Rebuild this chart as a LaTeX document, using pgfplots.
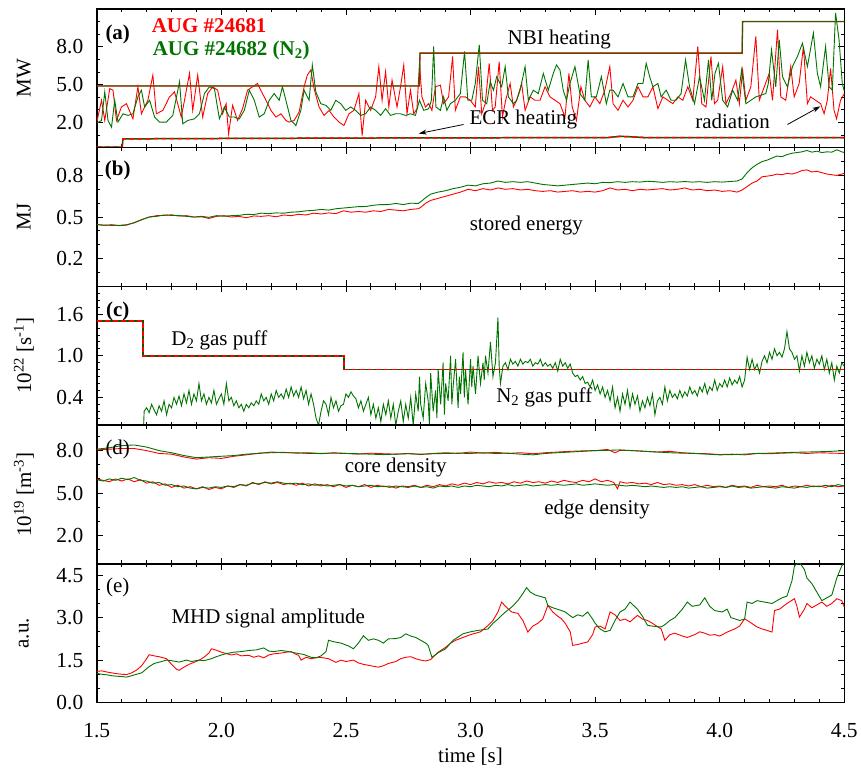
\documentclass[border=0pt]{standalone}
\usepackage{pgfplots}
\pgfplotsset{compat=1.18}
\usepackage{fontspec}
\setmainfont{Liberation Serif}
\usetikzlibrary{arrows.meta}
\definecolor{dgreen}{RGB}{0,115,0}
\definecolor{dred}{RGB}{255,0,0}
\pgfplotsset{panel/.style={
  width=749pt, height=139pt, scale only axis,
  xmin=1.5, xmax=4.5,
  xtick={1.5,2.0,2.5,3.0,3.5,4.0,4.5}, minor x tick num=4,
  xticklabel=\empty,
  tick align=inside, tick pos=both,
  major tick length=6pt, minor tick length=3.5pt,
  every tick/.style={black, line width=0.9pt},
  axis line style={line width=1.5pt},
  /pgf/number format/assume math mode=true,
  tick label style={font=\fontsize{21.5}{26}\selectfont},
  label style={font=\fontsize{21}{25}\selectfont},
  yticklabel style={xshift=-10pt, /pgf/number format/fixed, /pgf/number format/fixed zerofill, /pgf/number format/precision=1},
  ylabel style={at={(axis description cs:0,0.5)}, anchor=center, yshift=73pt, inner sep=0pt},
  every axis plot/.append style={line width=0.9pt},
}}
\begin{document}
\begin{tikzpicture}[font=\fontsize{21}{25}\selectfont]
\path (-97pt,-68pt) rectangle (764pt,704pt);
% ---------------- (a)
\begin{axis}[panel, at={(0pt,556pt)}, ymin=0, ymax=11, ytick={2,5,8}, minor ytick={1,3,4,6,7,9,10}, ylabel={MW}]
\addplot[dred, no marks] coordinates {(1.5,2.03) (1.519,3.76) (1.532,2.16) (1.552,4.69) (1.565,4.56) (1.579,2.16) (1.599,3.23) (1.619,3.49) (1.645,2.29) (1.665,4.83) (1.679,2.69) (1.705,3.76) (1.725,5.76) (1.739,2.69) (1.765,2.96) (1.792,4.03) (1.812,4.43) (1.839,2.43) (1.852,3.76) (1.872,5.89) (1.885,2.96) (1.905,5.76) (1.925,2.43) (1.945,4.29) (1.965,4.83) (1.985,4.56) (2.005,2.69) (2.019,3.49) (2.029,1.09) (2.045,3.36) (2.065,2.16) (2.085,3.09) (2.105,4.56) (2.125,4.83) (2.145,5.09) (2.165,4.29) (2.179,3.76) (2.199,2.96) (2.219,2.43) (2.239,2.69) (2.259,2.16) (2.272,2.03) (2.292,2.16) (2.312,2.83) (2.332,4.83) (2.345,5.76) (2.359,6.16) (2.372,4.69) (2.392,3.23) (2.412,2.56) (2.432,2.96) (2.452,2.43) (2.472,2.03) (2.492,1.76) (2.512,2.69) (2.532,2.96) (2.552,4.29) (2.565,0.96) (2.579,3.76) (2.599,2.96) (2.619,4.03) (2.632,6.43) (2.645,3.76) (2.659,6.03) (2.672,3.23) (2.685,5.36) (2.705,3.23) (2.719,4.83) (2.732,6.56) (2.745,2.69) (2.759,4.56) (2.772,2.69) (2.785,3.09) (2.795,6.69) (2.805,4.03) (2.819,3.23) (2.832,3.49)
(2.845,2.96) (2.859,4.83) (2.879,4.96) (2.892,3.49) (2.912,4.03) (2.928,7.23) (2.939,2.96) (2.959,4.03) (2.979,4.03) (2.999,3.76) (3.019,3.23) (3.032,6.43) (3.045,2.69) (3.059,3.49) (3.075,6.69) (3.088,2.96) (3.099,3.23) (3.115,6.83) (3.128,2.43) (3.141,3.76) (3.159,5.09) (3.172,3.23) (3.185,3.76) (3.205,5.09) (3.219,2.96) (3.239,4.03) (3.259,3.76) (3.279,3.76) (3.299,4.83) (3.319,4.03) (3.339,3.76) (3.359,3.49) (3.379,2.43) (3.395,5.89) (3.408,3.23) (3.425,2.16) (3.443,4.83) (3.459,3.76) (3.479,3.23) (3.499,4.03) (3.519,3.49) (3.539,4.56) (3.559,6.43) (3.572,3.49) (3.592,2.96) (3.612,3.76) (3.632,3.23) (3.652,3.76) (3.672,4.83) (3.692,4.03) (3.712,4.03) (3.732,4.83) (3.752,3.09) (3.772,4.03) (3.792,3.76) (3.812,3.49) (3.832,4.03) (3.852,3.76) (3.872,4.83) (3.892,3.76) (3.912,8.03) (3.928,3.49) (3.945,3.23) (3.965,7.23) (3.979,3.49) (3.992,3.76) (4.012,6.43) (4.025,3.49) (4.045,4.29) (4.065,5.36) (4.079,3.49) (4.092,6.16) (4.105,3.76) (4.125,4.83) (4.145,8.83) (4.159,3.76) (4.179,4.83) (4.199,5.89) (4.212,3.76) (4.232,9.36) (4.245,4.03) (4.265,3.76) (4.285,6.43) (4.299,4.03) (4.319,5.09) (4.336,8.03) (4.352,3.49) (4.365,4.03) (4.385,3.76) (4.405,3.49) (4.419,2.69) (4.432,3.76) (4.445,6.29) (4.459,2.96) (4.469,2.29) (4.485,3.76) (4.5,4.29)};
\addplot[dgreen, no marks] coordinates {(1.5,1.95) (1.519,2.16) (1.532,4.43) (1.545,2.16) (1.559,1.63) (1.572,3.76) (1.585,2.03) (1.605,2.69) (1.625,2.56) (1.645,2.69) (1.665,4.03) (1.679,4.56) (1.692,3.23) (1.712,3.76) (1.732,2.43) (1.752,2.03) (1.779,2.03) (1.805,2.56) (1.832,5.23) (1.845,1.89) (1.865,2.16) (1.892,2.29) (1.912,2.69) (1.932,4.29) (1.952,4.83) (1.972,4.69) (1.992,2.29) (2.012,3.23) (2.032,2.43) (2.052,2.43) (2.072,2.29) (2.092,2.96) (2.112,4.56) (2.132,3.76) (2.152,2.43) (2.172,2.69) (2.192,3.76) (2.212,4.29) (2.232,3.76) (2.245,4.83) (2.259,3.76) (2.279,2.16) (2.299,1.76) (2.319,2.96) (2.332,4.56) (2.352,3.76) (2.365,6.56) (2.379,4.43) (2.399,3.49) (2.419,3.36) (2.439,2.96) (2.459,3.76) (2.479,3.49) (2.499,2.96) (2.519,3.23) (2.539,2.96) (2.559,2.56) (2.579,2.69) (2.599,3.23) (2.619,2.96) (2.639,2.56) (2.659,3.09) (2.679,2.56) (2.699,2.69) (2.719,2.69) (2.739,2.56) (2.759,2.69) (2.779,2.56) (2.795,3.76) (2.812,2.96) (2.832,3.09)
(2.843,3.76) (2.852,8.03) (2.861,3.23) (2.879,2.96) (2.892,4.03) (2.905,2.96) (2.919,3.49) (2.939,3.76) (2.959,4.29) (2.976,7.63) (2.989,3.76) (3.005,3.76) (3.019,5.09) (3.035,8.16) (3.048,3.76) (3.065,3.49) (3.079,5.23) (3.092,4.56) (3.105,5.63) (3.125,4.83) (3.139,6.43) (3.152,4.03) (3.172,3.49) (3.185,3.76) (3.199,4.56) (3.219,6.43) (3.232,3.76) (3.252,4.56) (3.272,4.29) (3.292,5.89) (3.312,4.56) (3.332,5.89) (3.345,6.56) (3.359,6.16) (3.372,4.56) (3.385,3.76) (3.399,5.09) (3.419,6.43) (3.439,4.29) (3.459,3.76) (3.472,6.96) (3.485,4.03) (3.505,4.03) (3.525,5.63) (3.545,3.49) (3.559,4.56) (3.572,4.56) (3.592,4.03) (3.612,5.09) (3.632,4.03) (3.652,4.03) (3.672,5.09) (3.692,5.09) (3.705,6.69) (3.719,5.63) (3.732,4.83) (3.752,5.09) (3.765,4.03) (3.785,4.56) (3.805,3.76) (3.825,3.76) (3.845,4.29) (3.863,6.96) (3.879,4.83) (3.899,3.49) (3.919,5.63) (3.939,3.76) (3.955,6.96) (3.968,3.76) (3.981,5.89) (3.995,6.69) (4.012,3.76) (4.032,3.23) (4.052,4.56) (4.072,3.76) (4.088,6.16) (4.105,3.49) (4.125,3.76) (4.145,4.03) (4.165,4.16) (4.185,4.29) (4.195,5.09) (4.208,7.76) (4.225,4.83) (4.239,8.56) (4.252,5.63) (4.272,4.83) (4.292,6.43) (4.312,7.23) (4.332,8.29) (4.352,6.43) (4.376,9.09) (4.392,5.89) (4.405,4.83) (4.425,8.03) (4.439,4.83) (4.452,4.56) (4.465,10.69) (4.479,8.56) (4.492,5.09) (4.5,4.5)};
% NBI heating
\addplot[dred, no marks, line width=1.3pt] coordinates {(1.5,4.9) (2.795,4.9) (2.797,7.5) (4.09,7.5) (4.092,10.0) (4.5,10.0)};
\addplot[dgreen, no marks, line width=1.1pt, opacity=0.85] coordinates {(1.5,4.9) (2.795,4.9) (2.797,7.5) (4.09,7.5) (4.092,10.0) (4.5,10.0)};
% ECR heating
\addplot[dgreen!80!black, no marks, line width=1.5pt] coordinates {(1.5,0.05) (1.602,0.05) (1.605,0.7) (2.0,0.73) (2.8,0.78) (3.55,0.8) (3.6,0.9) (3.65,0.86) (3.7,0.8) (4.5,0.8)};
\addplot[dred, no marks, line width=1.5pt, dash pattern=on 5pt off 3pt] coordinates {(1.5,0.05) (1.602,0.05) (1.605,0.7) (2.0,0.73) (2.8,0.78) (3.55,0.8) (3.6,0.9) (3.65,0.86) (3.7,0.8) (4.5,0.8)};
\node[font=\fontsize{21}{25}\selectfont\bfseries] at (axis cs:1.584,9.0) {(a)};
\node[anchor=west, inner sep=0pt, text=dred, font=\fontsize{21}{25}\selectfont\bfseries] at (axis cs:1.72,9.68) {AUG \#24681};
\node[anchor=west, inner sep=0pt, text=dgreen, font=\fontsize{21}{25}\selectfont\bfseries] at (axis cs:1.724,7.68) {AUG \#24682 (N\textsubscript{2})};
\node at (axis cs:3.356,8.56) {NBI heating};
\node at (axis cs:3.212,2.24) {ECR heating};
\node at (axis cs:4.052,2.08) {radiation};
\draw[-{Stealth[length=8pt,width=5pt]}, line width=0.8pt] (axis cs:2.972,1.84) -- (axis cs:2.792,1.12);
\draw[-{Stealth[length=8pt,width=5pt]}, line width=0.8pt] (axis cs:4.272,1.84) -- (axis cs:4.404,3.28);
\end{axis}
% ---------------- (b)
\begin{axis}[panel, at={(0pt,417pt)}, ymin=0, ymax=1.0, ytick={0.2,0.5,0.8}, minor ytick={0.1,0.3,0.4,0.6,0.7,0.9}, ylabel={MJ}]
\addplot[dred, no marks] coordinates {(1.50,0.446) (1.53,0.442) (1.56,0.44) (1.59,0.44) (1.62,0.445) (1.65,0.458) (1.68,0.482) (1.71,0.50) (1.74,0.51) (1.77,0.512) (1.80,0.516) (1.83,0.508) (1.86,0.51) (1.89,0.5) (1.92,0.502) (1.95,0.49) (1.98,0.505) (2.01,0.51) (2.04,0.5) (2.07,0.505) (2.10,0.495) (2.13,0.508) (2.16,0.505) (2.19,0.51) (2.22,0.502) (2.25,0.515) (2.28,0.51) (2.31,0.52) (2.34,0.515) (2.37,0.528) (2.40,0.522) (2.43,0.53) (2.46,0.525) (2.49,0.545) (2.52,0.535) (2.55,0.54) (2.58,0.535) (2.61,0.545) (2.64,0.54) (2.67,0.555) (2.70,0.55) (2.73,0.545) (2.76,0.555) (2.79,0.56) (2.80,0.57) (2.82,0.6) (2.84,0.62) (2.87,0.635) (2.90,0.65) (2.93,0.665) (2.96,0.68) (2.99,0.70) (3.02,0.69) (3.05,0.705) (3.08,0.695) (3.11,0.71) (3.14,0.7) (3.17,0.705) (3.20,0.695) (3.23,0.70) (3.26,0.69) (3.29,0.685) (3.32,0.69) (3.35,0.68) (3.38,0.685) (3.41,0.69) (3.44,0.68) (3.47,0.685) (3.50,0.68) (3.53,0.69) (3.56,0.71) (3.59,0.695) (3.62,0.70) (3.65,0.69) (3.68,0.70) (3.71,0.695) (3.74,0.70) (3.77,0.705) (3.80,0.695) (3.83,0.70) (3.86,0.71) (3.89,0.695) (3.92,0.70) (3.95,0.69) (3.98,0.695) (4.01,0.685) (4.04,0.69) (4.07,0.68) (4.09,0.695) (4.11,0.72) (4.13,0.745) (4.15,0.76) (4.17,0.79) (4.19,0.795) (4.21,0.80) (4.23,0.81) (4.25,0.805) (4.27,0.815) (4.29,0.81) (4.31,0.82) (4.33,0.835) (4.35,0.84) (4.37,0.825) (4.39,0.83) (4.41,0.82) (4.43,0.81) (4.45,0.805) (4.47,0.80) (4.49,0.81) (4.50,0.815)};
\addplot[dgreen, no marks] coordinates {(1.50,0.446) (1.53,0.44) (1.56,0.445) (1.59,0.438) (1.62,0.442) (1.65,0.46) (1.68,0.48) (1.71,0.50) (1.74,0.505) (1.77,0.515) (1.80,0.512) (1.83,0.51) (1.86,0.505) (1.89,0.5) (1.92,0.505) (1.95,0.498) (1.98,0.51) (2.01,0.506) (2.04,0.51) (2.07,0.512) (2.10,0.52) (2.13,0.518) (2.16,0.528) (2.19,0.525) (2.22,0.53) (2.25,0.528) (2.28,0.535) (2.31,0.538) (2.34,0.545) (2.37,0.548) (2.40,0.555) (2.43,0.55) (2.46,0.56) (2.49,0.565) (2.52,0.57) (2.55,0.575) (2.58,0.576) (2.61,0.585) (2.64,0.59) (2.67,0.59) (2.70,0.598) (2.73,0.59) (2.76,0.60) (2.79,0.598) (2.80,0.61) (2.82,0.64) (2.84,0.665) (2.87,0.68) (2.90,0.69) (2.93,0.705) (2.96,0.715) (2.99,0.73) (3.02,0.725) (3.05,0.74) (3.08,0.745) (3.11,0.76) (3.14,0.75) (3.17,0.755) (3.20,0.75) (3.23,0.755) (3.26,0.745) (3.29,0.735) (3.32,0.73) (3.35,0.725) (3.38,0.73) (3.41,0.735) (3.44,0.74) (3.47,0.745) (3.50,0.74) (3.53,0.75) (3.56,0.748) (3.59,0.755) (3.62,0.75) (3.65,0.755) (3.68,0.752) (3.71,0.758) (3.74,0.755) (3.77,0.75) (3.80,0.755) (3.83,0.752) (3.86,0.756) (3.89,0.752) (3.92,0.755) (3.95,0.75) (3.98,0.755) (4.01,0.752) (4.04,0.756) (4.07,0.76) (4.09,0.775) (4.11,0.82) (4.13,0.855) (4.15,0.88) (4.17,0.9) (4.19,0.91) (4.21,0.925) (4.23,0.94) (4.25,0.935) (4.27,0.95) (4.29,0.96) (4.31,0.965) (4.33,0.97) (4.35,0.98) (4.37,0.968) (4.39,0.975) (4.41,0.965) (4.43,0.97) (4.45,0.968) (4.47,0.985) (4.49,0.97) (4.50,0.965)};
\node[font=\fontsize{21}{25}\selectfont\bfseries] at (axis cs:1.584,0.835) {(b)};
\node at (axis cs:3.224,0.439) {stored energy};
\end{axis}
% ---------------- (c)
\begin{axis}[panel, at={(0pt,278pt)}, ymin=0, ymax=2.0, ytick={0.4,1.0,1.6}, minor ytick={0.1,0.2,0.3,0.5,0.6,0.7,0.8,0.9,1.1,1.2,1.3,1.4,1.5,1.7,1.8,1.9}, ylabel={10\textsuperscript{22} [s\textsuperscript{-1}]}]
\addplot[dgreen, no marks] coordinates {(1.688,0.0) (1.69,0.2) (1.70,0.25) (1.71,0.18) (1.72,0.3) (1.73,0.22) (1.74,0.15) (1.75,0.28) (1.76,0.2) (1.77,0.35) (1.78,0.15) (1.79,0.3) (1.80,0.25) (1.81,0.4) (1.82,0.3) (1.83,0.42) (1.84,0.28) (1.85,0.45) (1.86,0.32) (1.87,0.5) (1.88,0.3) (1.89,0.45) (1.90,0.35) (1.91,0.6) (1.92,0.35) (1.93,0.45) (1.94,0.3) (1.95,0.4) (1.96,0.32) (1.97,0.5) (1.98,0.3) (1.99,0.38) (2.00,0.45) (2.01,0.3) (2.02,0.6) (2.03,0.35) (2.04,0.4) (2.05,0.28) (2.06,0.35) (2.07,0.25) (2.08,0.3) (2.09,0.2) (2.10,0.3) (2.11,0.25) (2.12,0.32) (2.13,0.28) (2.14,0.35) (2.15,0.3) (2.16,0.45) (2.17,0.35) (2.18,0.4) (2.19,0.3) (2.20,0.45) (2.21,0.35) (2.22,0.5) (2.23,0.4) (2.24,0.45) (2.25,0.38) (2.26,0.52) (2.27,0.4) (2.28,0.55) (2.29,0.42) (2.30,0.5) (2.31,0.4) (2.32,0.55) (2.33,0.38) (2.34,0.5) (2.35,0.3) (2.36,0.45) (2.37,0.3) (2.38,0.1) (2.39,0.0) (2.40,0.2) (2.41,0.35) (2.42,0.3) (2.43,0.15) (2.44,0.4) (2.45,0.25) (2.46,0.35) (2.47,0.2) (2.48,0.28) (2.49,0.3) (2.50,0.45) (2.51,0.4) (2.52,0.48) (2.53,0.42) (2.54,0.38) (2.55,0.25) (2.56,0.35) (2.57,0.2) (2.58,0.3) (2.59,0.4) (2.60,0.15) (2.61,0.3) (2.62,0.1) (2.63,0.25) (2.64,0.05) (2.65,0.3) (2.66,0.15) (2.67,0.35) (2.68,0.1) (2.69,0.3) (2.70,0.0) (2.71,0.2) (2.72,0.35) (2.73,0.05) (2.74,0.3) (2.75,0.1) (2.76,0.4) (2.77,0.0) (2.78,0.45) (2.79,0.2) (2.795,0.7) (2.80,0.3) (2.81,0.1) (2.82,0.6) (2.83,0.35) (2.835,0.0) (2.84,0.75) (2.85,0.2) (2.86,0.5) (2.865,0.1) (2.87,0.8) (2.88,0.3) (2.89,0.9) (2.895,0.15) (2.90,0.6) (2.91,0.35) (2.92,1.0) (2.925,0.3) (2.93,0.55) (2.94,0.95) (2.95,0.25) (2.955,0.7) (2.96,0.45) (2.97,1.05) (2.975,0.4) (2.98,0.8) (2.99,0.3) (3.00,0.95) (3.005,0.55) (3.01,0.85) (3.02,0.45) (3.03,1.0) (3.04,0.6) (3.05,0.9) (3.055,0.65) (3.06,1.0) (3.07,0.75) (3.08,1.2) (3.09,0.7) (3.10,0.9) (3.11,1.55) (3.115,0.85) (3.12,0.6) (3.13,0.85) (3.14,0.9) (3.15,0.8) (3.16,0.95) (3.17,0.88) (3.18,0.92) (3.19,0.85) (3.20,0.95) (3.21,0.88) (3.22,0.92) (3.23,0.9) (3.24,0.95) (3.25,0.85) (3.26,0.9) (3.27,0.88) (3.28,0.95) (3.29,0.85) (3.30,0.9) (3.31,0.85) (3.32,0.88) (3.33,0.82) (3.34,0.9) (3.35,0.78) (3.36,0.95) (3.37,0.85) (3.38,0.9) (3.39,0.82) (3.40,0.88) (3.41,0.75) (3.42,0.7) (3.43,0.72) (3.44,0.65) (3.45,0.7) (3.46,0.6) (3.47,0.62) (3.48,0.55) (3.49,0.65) (3.50,0.5) (3.51,0.58) (3.52,0.45) (3.53,0.55) (3.54,0.4) (3.55,0.5) (3.56,0.35) (3.57,0.55) (3.58,0.25) (3.59,0.4) (3.60,0.2) (3.61,0.45) (3.62,0.3) (3.63,0.5) (3.64,0.25) (3.65,0.45) (3.66,0.3) (3.67,0.42) (3.68,0.2) (3.69,0.35) (3.70,0.25) (3.71,0.4) (3.72,0.28) (3.73,0.45) (3.74,0.15) (3.75,0.35) (3.76,0.4) (3.77,0.3) (3.78,0.55) (3.79,0.35) (3.80,0.5) (3.81,0.4) (3.82,0.45) (3.83,0.38) (3.84,0.5) (3.85,0.4) (3.86,0.48) (3.87,0.42) (3.88,0.55) (3.89,0.45) (3.90,0.5) (3.91,0.42) (3.92,0.55) (3.93,0.48) (3.94,0.6) (3.95,0.45) (3.96,0.55) (3.97,0.5) (3.98,0.65) (3.99,0.5) (4.00,0.6) (4.01,0.55) (4.02,0.65) (4.03,0.55) (4.04,0.68) (4.05,0.58) (4.06,0.65) (4.07,0.6) (4.08,0.7) (4.09,0.55) (4.10,0.65) (4.11,0.98) (4.12,0.8) (4.13,0.95) (4.14,0.8) (4.15,0.88) (4.16,0.75) (4.17,0.92) (4.18,1.0) (4.19,0.9) (4.20,1.05) (4.21,0.95) (4.22,1.1) (4.23,1.0) (4.24,1.05) (4.25,0.98) (4.26,1.1) (4.27,1.35) (4.28,1.1) (4.29,1.05) (4.30,0.95) (4.31,1.0) (4.32,0.78) (4.33,1.0) (4.34,0.85) (4.35,1.05) (4.36,0.9) (4.37,1.0) (4.38,0.82) (4.39,0.95) (4.40,0.88) (4.41,1.0) (4.42,0.8) (4.43,0.95) (4.44,0.75) (4.45,0.9) (4.46,0.65) (4.47,0.85) (4.48,0.75) (4.49,0.9) (4.50,0.85)};
\addplot[dgreen!80!black, no marks, line width=1.5pt] coordinates {(1.5,1.5) (1.686,1.5) (1.686,1.0) (2.492,1.0) (2.492,0.8) (4.5,0.8)};
\addplot[dred, no marks, line width=1.5pt, dash pattern=on 5pt off 3pt] coordinates {(1.5,1.5) (1.686,1.5) (1.686,1.0) (2.492,1.0) (2.492,0.8) (4.5,0.8)};
\node[font=\fontsize{21}{25}\selectfont\bfseries] at (axis cs:1.584,1.64) {(c)};
\node at (axis cs:1.992,1.22) {D\textsubscript{2} gas puff};
\node at (axis cs:3.296,0.40) {N\textsubscript{2} gas puff};
\end{axis}
% ---------------- (d)
\begin{axis}[panel, at={(0pt,139pt)}, ymin=0, ymax=9.8, ytick={2,5,8}, minor ytick={1,3,4,6,7,9}, ylabel={10\textsuperscript{19} [m\textsuperscript{-3}]}]
\addplot[dred, no marks] coordinates {(1.50,8.05) (1.55,8.1) (1.60,8.15) (1.65,8.15) (1.70,8.0) (1.75,7.8) (1.80,7.75) (1.85,7.55) (1.90,7.4) (1.95,7.5) (2.00,7.45) (2.05,7.6) (2.10,7.7) (2.15,7.82) (2.20,7.85) (2.25,7.88) (2.30,7.82) (2.35,7.85) (2.40,7.78) (2.45,7.85) (2.50,7.8) (2.55,7.75) (2.60,7.82) (2.65,7.78) (2.70,7.75) (2.75,7.8) (2.80,7.72) (2.85,7.8) (2.90,7.85) (2.95,7.8) (3.00,7.9) (3.05,7.82) (3.10,7.88) (3.15,7.8) (3.20,7.85) (3.25,7.78) (3.30,7.85) (3.35,7.9) (3.40,7.95) (3.45,7.98) (3.50,8.0) (3.55,8.08) (3.58,7.85) (3.60,8.02) (3.65,8.0) (3.70,7.95) (3.75,7.9) (3.80,7.95) (3.85,7.85) (3.90,7.8) (3.95,7.78) (4.00,7.72) (4.05,7.75) (4.10,7.7) (4.15,7.8) (4.20,7.78) (4.25,7.82) (4.30,7.85) (4.35,7.8) (4.40,7.85) (4.45,7.82) (4.50,7.8)};
\addplot[dgreen, no marks] coordinates {(1.50,8.1) (1.55,8.2) (1.60,8.35) (1.65,8.4) (1.70,8.25) (1.75,8.0) (1.80,7.85) (1.85,7.65) (1.90,7.5) (1.95,7.55) (2.00,7.6) (2.05,7.65) (2.10,7.75) (2.15,7.8) (2.20,7.9) (2.25,7.85) (2.30,7.85) (2.35,7.8) (2.40,7.8) (2.45,7.82) (2.50,7.8) (2.55,7.78) (2.60,7.75) (2.65,7.72) (2.70,7.75) (2.75,7.78) (2.80,7.75) (2.85,7.78) (2.90,7.8) (2.95,7.82) (3.00,7.8) (3.05,7.85) (3.10,7.8) (3.15,7.82) (3.20,7.75) (3.25,7.7) (3.30,7.8) (3.35,7.85) (3.40,7.9) (3.45,7.95) (3.50,8.0) (3.55,8.02) (3.60,8.05) (3.65,8.0) (3.70,7.95) (3.75,7.9) (3.80,7.85) (3.85,7.82) (3.90,7.8) (3.95,7.75) (4.00,7.7) (4.05,7.72) (4.10,7.75) (4.15,7.8) (4.20,7.82) (4.25,7.85) (4.30,7.88) (4.35,7.9) (4.40,7.92) (4.45,7.95) (4.50,8.0)};
\addplot[dred, no marks] coordinates {(1.500,6.0) (1.525,5.9) (1.550,5.8) (1.575,6.0) (1.600,5.85) (1.625,6.0) (1.650,5.8) (1.675,5.95) (1.700,5.7) (1.725,5.8) (1.750,5.55) (1.775,5.65) (1.800,5.4) (1.825,5.55) (1.850,5.35) (1.875,5.45) (1.900,5.3) (1.925,5.45) (1.950,5.25) (1.975,5.4) (2.000,5.3) (2.025,5.5) (2.050,5.4) (2.075,5.6) (2.100,5.5) (2.125,5.75) (2.150,5.6) (2.175,5.8) (2.200,5.65) (2.225,5.75) (2.250,5.6) (2.275,5.7) (2.300,5.55) (2.325,5.7) (2.350,5.5) (2.375,5.65) (2.400,5.5) (2.425,5.6) (2.450,5.45) (2.475,5.6) (2.500,5.4) (2.525,5.55) (2.550,5.45) (2.575,5.6) (2.600,5.4) (2.625,5.55) (2.650,5.45) (2.675,5.5) (2.700,5.35) (2.725,5.5) (2.750,5.45) (2.775,5.55) (2.800,5.4) (2.825,5.55) (2.850,5.45) (2.875,5.6) (2.900,5.5) (2.925,5.65) (2.950,5.55) (2.975,5.7) (3.000,5.6) (3.025,5.75) (3.050,5.65) (3.075,5.8) (3.100,5.7) (3.125,5.75) (3.150,5.65) (3.175,5.8) (3.200,5.7) (3.225,5.85) (3.250,5.75) (3.275,5.8) (3.300,5.7) (3.325,5.85) (3.350,5.75) (3.375,5.9) (3.400,5.8) (3.425,5.75) (3.450,5.9) (3.475,5.8) (3.500,6.0) (3.525,5.8) (3.550,5.9) (3.575,5.75) (3.590,5.3) (3.600,5.8) (3.625,5.7) (3.650,5.75) (3.675,5.65) (3.700,5.7) (3.725,5.6) (3.750,5.75) (3.775,5.6) (3.800,5.65) (3.825,5.55) (3.850,5.6) (3.875,5.5) (3.900,5.6) (3.925,5.45) (3.950,5.55) (3.975,5.45) (4.000,5.5) (4.025,5.4) (4.050,5.55) (4.075,5.45) (4.100,5.5) (4.125,5.4) (4.150,5.55) (4.175,5.45) (4.200,5.5) (4.225,5.45) (4.250,5.55) (4.275,5.4) (4.300,5.5) (4.325,5.45) (4.350,5.55) (4.375,5.45) (4.400,5.5) (4.425,5.4) (4.450,5.55) (4.475,5.45) (4.500,5.5)};
\addplot[dgreen, no marks] coordinates {(1.500,5.95) (1.525,5.85) (1.550,6.0) (1.575,5.9) (1.600,6.05) (1.625,5.95) (1.650,6.1) (1.675,5.9) (1.700,5.85) (1.725,5.7) (1.750,5.75) (1.775,5.55) (1.800,5.6) (1.825,5.45) (1.850,5.5) (1.875,5.35) (1.900,5.3) (1.925,5.4) (1.950,5.35) (1.975,5.45) (2.000,5.4) (2.025,5.5) (2.050,5.45) (2.075,5.6) (2.100,5.55) (2.125,5.7) (2.150,5.65) (2.175,5.75) (2.200,5.7) (2.225,5.8) (2.250,5.7) (2.275,5.65) (2.300,5.7) (2.325,5.6) (2.350,5.65) (2.375,5.55) (2.400,5.6) (2.425,5.5) (2.450,5.55) (2.475,5.6) (2.500,5.5) (2.525,5.55) (2.550,5.45) (2.575,5.5) (2.600,5.55) (2.625,5.45) (2.650,5.5) (2.675,5.4) (2.700,5.5) (2.725,5.45) (2.750,5.4) (2.775,5.5) (2.800,5.4) (2.825,5.45) (2.850,5.35) (2.875,5.5) (2.900,5.45) (2.925,5.5) (2.950,5.4) (2.975,5.5) (3.000,5.45) (3.025,5.55) (3.050,5.5) (3.075,5.45) (3.100,5.55) (3.125,5.5) (3.150,5.6) (3.175,5.5) (3.200,5.55) (3.225,5.6) (3.250,5.5) (3.275,5.55) (3.300,5.6) (3.325,5.55) (3.350,5.6) (3.375,5.55) (3.400,5.6) (3.425,5.65) (3.450,5.55) (3.475,5.6) (3.500,5.65) (3.525,5.6) (3.550,5.55) (3.575,5.6) (3.600,5.55) (3.625,5.5) (3.650,5.55) (3.675,5.5) (3.700,5.45) (3.725,5.5) (3.750,5.45) (3.775,5.4) (3.800,5.45) (3.825,5.4) (3.850,5.45) (3.875,5.35) (3.900,5.4) (3.925,5.45) (3.950,5.35) (3.975,5.4) (4.000,5.45) (4.025,5.4) (4.050,5.5) (4.075,5.4) (4.100,5.45) (4.125,5.35) (4.150,5.4) (4.175,5.45) (4.200,5.4) (4.225,5.35) (4.250,5.45) (4.275,5.4) (4.300,5.35) (4.325,5.45) (4.350,5.4) (4.375,5.5) (4.400,5.45) (4.425,5.55) (4.450,5.45) (4.475,5.6) (4.500,5.5)};
\node at (axis cs:1.584,8.11) {(d)};
\node at (axis cs:2.70,6.84) {core density};
\node at (axis cs:3.508,3.81) {edge density};
\end{axis}
% ---------------- (e)
\begin{axis}[panel, at={(0pt,0pt)}, ymin=0, ymax=4.9, ytick={0,1.5,3.0,4.5}, minor ytick={0.5,1.0,2.0,2.5,3.5,4.0}, ylabel={a.u.},
  xticklabel={\axisdefaultticklabel},
  xticklabel style={yshift=-17pt, /pgf/number format/fixed, /pgf/number format/fixed zerofill, /pgf/number format/precision=1},
  xlabel={time [s]}, xlabel style={at={(axis description cs:0.5,0)}, anchor=center, yshift=-54pt, inner sep=0pt}]
\addplot[dred, no marks] coordinates {(1.50,1.10) (1.52,1.12) (1.54,1.08) (1.56,1.05) (1.58,1.02) (1.60,1.0) (1.62,0.99) (1.64,1.05) (1.66,1.15) (1.68,1.3) (1.70,1.55) (1.71,1.69) (1.73,1.65) (1.75,1.62) (1.78,1.55) (1.80,1.35) (1.82,1.18) (1.83,1.14) (1.85,1.25) (1.87,1.35) (1.89,1.42) (1.91,1.49) (1.93,1.6) (1.95,1.75) (1.96,1.9) (1.98,1.85) (2.00,1.78) (2.02,1.73) (2.04,1.68) (2.06,1.72) (2.08,1.65) (2.11,1.67) (2.13,1.6) (2.15,1.65) (2.17,1.58) (2.19,1.68) (2.21,1.72) (2.24,1.75) (2.26,1.78) (2.28,1.8) (2.30,1.7) (2.31,1.67) (2.32,1.5) (2.34,1.6) (2.36,1.55) (2.39,1.6) (2.41,1.58) (2.43,1.55) (2.46,1.42) (2.48,1.5) (2.50,1.45) (2.53,1.5) (2.55,1.4) (2.57,1.35) (2.60,1.3) (2.63,1.25) (2.65,1.3) (2.67,1.38) (2.70,1.45) (2.72,1.55) (2.74,1.6) (2.76,1.62) (2.78,1.55) (2.80,1.5) (2.82,1.47) (2.84,1.52) (2.87,1.78) (2.90,1.95) (2.92,2.1) (2.94,2.2) (2.97,2.3) (3.00,2.4) (3.02,2.45) (3.04,2.5) (3.07,2.72) (3.09,2.9) (3.11,3.2) (3.125,3.55) (3.14,3.4) (3.165,3.2) (3.19,3.15) (3.21,2.9) (3.23,2.49) (3.25,2.7) (3.27,2.8) (3.29,2.95) (3.31,3.43) (3.33,3.2) (3.35,3.05) (3.365,2.96) (3.38,2.8) (3.40,2.5) (3.41,2.02) (3.43,2.05) (3.45,2.1) (3.47,2.14) (3.49,2.4) (3.50,2.67) (3.52,2.7) (3.54,2.6) (3.56,3.2) (3.58,3.1) (3.60,2.9) (3.62,2.95) (3.64,2.85) (3.67,3.08) (3.69,2.95) (3.71,2.9) (3.73,2.8) (3.765,2.6) (3.78,2.2) (3.80,2.4) (3.82,2.45) (3.85,2.35) (3.87,2.3) (3.90,2.4) (3.92,2.5) (3.94,2.45) (3.96,2.38) (3.98,2.4) (4.00,2.35) (4.03,2.49) (4.06,2.6) (4.08,2.7) (4.10,2.96) (4.12,2.85) (4.15,2.67) (4.17,2.6) (4.19,2.55) (4.21,2.49) (4.22,3.25) (4.24,3.3) (4.27,3.5) (4.30,3.67) (4.31,3.4) (4.32,3.02) (4.34,3.3) (4.35,3.5) (4.37,3.35) (4.39,3.45) (4.41,3.55) (4.43,3.4) (4.45,3.5) (4.47,3.67) (4.49,3.6) (4.50,3.37)};
\addplot[dgreen, no marks] coordinates {(1.50,1.03) (1.52,1.0) (1.54,0.98) (1.56,0.95) (1.58,0.93) (1.60,0.92) (1.62,0.9) (1.64,0.95) (1.66,1.0) (1.68,1.05) (1.71,1.27) (1.73,1.38) (1.76,1.45) (1.78,1.5) (1.80,1.48) (1.83,1.43) (1.86,1.5) (1.88,1.45) (1.91,1.5) (1.93,1.48) (1.96,1.55) (1.98,1.62) (2.00,1.68) (2.02,1.73) (2.05,1.78) (2.08,1.8) (2.11,1.84) (2.14,1.86) (2.17,1.93) (2.19,1.82) (2.21,1.8) (2.24,1.84) (2.27,1.8) (2.31,1.73) (2.33,1.7) (2.36,1.6) (2.38,1.58) (2.40,1.65) (2.42,1.8) (2.43,2.2) (2.45,2.15) (2.48,2.1) (2.51,2.0) (2.53,1.9) (2.55,2.1) (2.57,2.36) (2.59,2.2) (2.61,2.25) (2.63,2.2) (2.65,2.1) (2.67,2.25) (2.70,2.26) (2.72,2.3) (2.74,2.43) (2.76,2.35) (2.78,2.3) (2.80,2.2) (2.82,2.1) (2.83,2.02) (2.845,1.6) (2.87,1.76) (2.90,1.9) (2.93,2.2) (2.97,2.43) (3.00,2.5) (3.03,2.55) (3.07,2.6) (3.09,2.8) (3.11,2.95) (3.125,3.08) (3.14,3.2) (3.165,3.37) (3.19,3.6) (3.21,3.85) (3.225,4.06) (3.24,3.9) (3.26,3.8) (3.28,3.75) (3.30,3.7) (3.31,3.43) (3.33,3.35) (3.365,3.25) (3.38,3.2) (3.41,3.0) (3.43,3.1) (3.45,3.05) (3.47,3.2) (3.49,2.95) (3.50,2.8) (3.52,2.6) (3.54,2.5) (3.56,2.55) (3.58,2.9) (3.60,3.2) (3.62,3.3) (3.64,3.55) (3.67,3.3) (3.69,3.05) (3.71,2.73) (3.73,2.7) (3.765,2.67) (3.78,2.75) (3.80,2.9) (3.82,3.0) (3.85,3.3) (3.87,3.55) (3.89,3.4) (3.92,3.45) (3.94,3.7) (3.96,3.4) (3.98,3.25) (4.01,3.2) (4.03,3.3) (4.045,3.0) (4.06,2.96) (4.08,2.9) (4.10,2.95) (4.11,3.55) (4.13,3.5) (4.15,3.6) (4.18,3.55) (4.21,3.5) (4.23,3.6) (4.25,3.7) (4.27,3.76) (4.29,4.3) (4.30,4.83) (4.32,4.95) (4.34,4.7) (4.35,4.4) (4.37,4.2) (4.39,3.9) (4.41,3.6) (4.43,3.7) (4.45,3.8) (4.47,4.4) (4.49,4.83) (4.50,4.95)};
\node at (axis cs:1.584,4.05) {(e)};
\node at (axis cs:2.188,2.96) {MHD signal amplitude};
\end{axis}
\end{tikzpicture}
\end{document}
